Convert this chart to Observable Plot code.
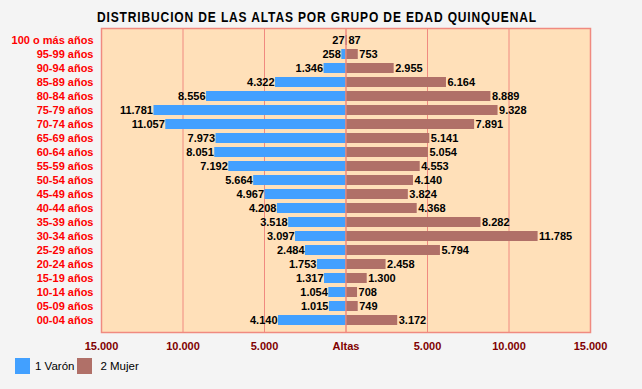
<!DOCTYPE html>
<html>
<head>
<meta charset="utf-8">
<script src="https://cdn.jsdelivr.net/npm/d3@7"></script>
<script src="https://cdn.jsdelivr.net/npm/@observablehq/plot@0.6"></script>
<style>
  html, body { margin: 0; padding: 0; background: #f4f4f4; }
  #wrap { width: 642px; height: 389px; position: relative; background: #f4f4f4; font-family: "Liberation Sans", Arial, sans-serif; overflow: hidden; }
  #title { position: absolute; left: 317px; top: 9px; white-space: nowrap; font-weight: bold; font-size: 14px; letter-spacing: 1px; color: #000; transform-origin: 0 0; }
  #chart { position: absolute; left: 0; top: 25px; }
  #legend { position: absolute; left: 15px; top: 358px; font-size: 11.5px; color: #000; display: flex; align-items: center; }
  .sw { width: 15px; height: 16px; display: inline-block; }
  .lab { margin-left: 5px; margin-right: 0px; }
</style>
</head>
<body>
<div id="wrap">
  <div id="title">DISTRIBUCION DE LAS ALTAS POR GRUPO DE EDAD QUINQUENAL</div>
  <div id="chart"></div>
  <div id="legend"></div>
</div>
<script>
const ageGroups = ["100 o más años","95-99 años","90-94 años","85-89 años","80-84 años","75-79 años","70-74 años","65-69 años","60-64 años","55-59 años","50-54 años","45-49 años","40-44 años","35-39 años","30-34 años","25-29 años","20-24 años","15-19 años","10-14 años","05-09 años","00-04 años"];
const varon = [27,258,1346,4322,8556,11781,11057,7973,8051,7192,5664,4967,4208,3518,3097,2484,1753,1317,1054,1015,4140];
const mujer = [87,753,2955,6164,8889,9328,7891,5141,5054,4553,4140,3824,4368,8282,11785,5794,2458,1300,708,749,3172];
const xTicks = [-15000,-10000,-5000,0,5000,10000,15000];
const seriesNames = ["1 Varón","2 Mujer"];
const seriesColors = ["#42a0ff","#b07068"];

const loc = d3.formatLocale({decimal: ",", thousands: ".", grouping: [3], currency: ["", "€"]});
const fmt = loc.format(",d");

const rows = ageGroups.map((g, i) => ({g, v: varon[i], m: mujer[i]}));
const grid = "#f08a80";

// fit title into ~440px, centred at x≈317
const title = document.getElementById("title");
const tw = title.getBoundingClientRect().width;
const sx = 440 / tw;
title.style.transform = `translateX(${-220}px) scaleX(${sx})`;

const plot = Plot.plot({
  width: 642,
  height: 330,
  marginLeft: 101,
  marginRight: 52,
  marginTop: 3,
  marginBottom: 23,
  style: {background: "transparent", fontFamily: "Liberation Sans, Arial, sans-serif", fontSize: "11px", fontWeight: "bold", overflow: "visible"},
  x: {domain: [-15000, 15000], ticks: xTicks, tickFormat: d => d === 0 ? "Altas" : fmt(Math.abs(d)), label: null},
  y: {domain: ageGroups, padding: 0.3, label: null},
  marks: [
    Plot.frame({fill: "#ffe0b9", stroke: null}),
    Plot.ruleX(xTicks, {stroke: grid, strokeWidth: 1}),
    Plot.barX(rows, {y: "g", x1: 0, x2: d => -d.v, fill: seriesColors[0]}),
    Plot.barX(rows, {y: "g", x1: 0, x2: d => d.m, fill: seriesColors[1]}),
    Plot.ruleX([0], {stroke: grid}),
    Plot.frame({stroke: grid, strokeWidth: 1.5}),
    Plot.text(rows, {y: "g", x: d => -d.v, text: d => fmt(d.v), textAnchor: "end", dx: -1, fill: "#000", fontWeight: "bold", fontSize: 11}),
    Plot.text(rows, {y: "g", x: d => d.m, text: d => fmt(d.m), textAnchor: "start", dx: 1, fill: "#000", fontWeight: "bold", fontSize: 11}),
    Plot.axisX({ticks: xTicks, tickFormat: d => d === 0 ? "Altas" : fmt(Math.abs(d)), tickSize: 0, tickPadding: 10, color: "#800000", label: null, fontWeight: "bold"}),
    Plot.axisY({tickSize: 0, tickPadding: 8, color: "#ff0000", label: null, fontWeight: "bold"})
  ]
});
document.getElementById("chart").appendChild(plot);

const leg = document.getElementById("legend");
seriesNames.forEach((n, i) => {
  const s = document.createElement("span");
  s.className = "sw"; s.style.background = seriesColors[i];
  const t = document.createElement("span");
  t.className = "lab"; t.textContent = n;
  t.style.marginLeft = i === 0 ? "5px" : "8px";
  t.style.marginRight = i === 0 ? "3px" : "0";
  leg.appendChild(s); leg.appendChild(t);
});
</script>
</body>
</html>
